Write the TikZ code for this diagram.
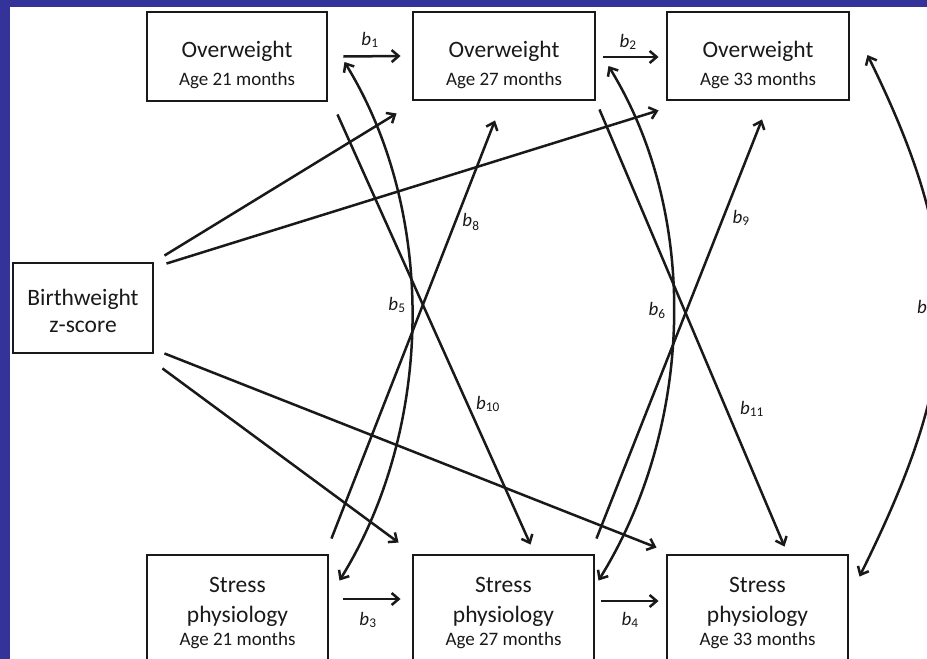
\documentclass[tikz,border=0pt]{standalone}
\usepackage{fontspec}
\setmainfont{Carlito}
\usetikzlibrary{arrows.meta,calc}
\definecolor{frameblue}{RGB}{51,51,153}
\definecolor{ink}{RGB}{25,25,25}
\newcommand{\coefb}[1]{\textit{b}\textsubscript{#1}}
\begin{document}
\begin{tikzpicture}[x=1pt,y=-1pt,
  box/.style={draw=ink, line width=2.9pt, inner sep=0pt, fill=white},
  link/.style={draw=ink, line width=2.5pt, -{Straight Barb[length=7pt,width=12pt]}},
  both/.style={draw=ink, line width=2.5pt, {Straight Barb[length=7pt,width=12pt]}-{Straight Barb[length=7pt,width=12pt]}},
  big/.style={font=\fontsize{23.5}{28}\selectfont, text=ink, inner sep=0pt, anchor=base},
  small/.style={font=\fontsize{19}{22}\selectfont, text=ink, inner sep=0pt, anchor=base},
  coef/.style={font=\fontsize{19}{22}\selectfont, text=ink, inner sep=0pt}]
\clip (0,0) rectangle (927,659);
\fill[white] (0,0) rectangle (927,659);
\fill[frameblue] (0,0) rectangle (927,7);
\fill[frameblue] (0,0) rectangle (10,659);

% boxes
\node[box, minimum width=180pt, minimum height=89pt] (o21) at (237,56.5) {};
\node[box, minimum width=182pt, minimum height=88pt] (o27) at (504,56) {};
\node[box, minimum width=182pt, minimum height=88pt] (o33) at (758,56) {};
\node[box, minimum width=140pt, minimum height=90pt] (bw) at (83,308) {};
\node[box, minimum width=181pt, minimum height=120pt] (s21) at (237.5,615) {};
\node[box, minimum width=181pt, minimum height=120pt] (s27) at (503.5,615) {};
\node[box, minimum width=181pt, minimum height=120pt] (s33) at (757.5,615) {};

% box texts
\node[big] (o21a) at (237,57) {Overweight};
\node[small] (o21b) at (237,85) {Age 21 months};
\node[big] (o27a) at (504,57) {Overweight};
\node[small] (o27b) at (504,85) {Age 27 months};
\node[big] (o33a) at (758,57) {Overweight};
\node[small] (o33b) at (758,85) {Age 33 months};
\node[big] (bwa) at (83,305) {Birthweight};
\node[big] (bwb) at (83,332) {z-score};
\node[big] (s21a) at (237.5,592) {Stress};
\node[big] (s21b) at (237.5,622) {physiology};
\node[small] (s21c) at (237.5,645) {Age 21 months};
\node[big] (s27a) at (503.5,592) {Stress};
\node[big] (s27b) at (503.5,622) {physiology};
\node[small] (s27c) at (503.5,645) {Age 27 months};
\node[big] (s33a) at (757.5,592) {Stress};
\node[big] (s33b) at (757.5,622) {physiology};
\node[small] (s33c) at (757.5,645) {Age 33 months};

% horizontal paths
\draw[link] ($(o21.east)+(15,0)$) -- ($(o27.west)+(-11,0)$);
\draw[link] ($(o27.east)+(7,1)$) -- ($(o33.west)+(-7,1)$);
\draw[link] ($(s21.east)+(14,-16)$) -- ($(s27.west)+(-11,-16)$);
\draw[link] ($(s27.east)+(6,-14)$) -- ($(s33.west)+(-7,-14)$);

% birthweight paths
\draw[link] ($(bw.north east)+(10,-6)$) -- ($(o27.south west)+(-15,12)$);
\draw[link] ($(bw.north east)+(12,2)$) -- ($(o33.south west)+(-7,9)$);
\draw[link] ($(bw.south east)+(10,-1)$) -- ($(s33.north west)+(-9,-6)$);
\draw[link] ($(bw.south east)+(8,14)$) -- ($(s27.north west)+(-13,-11)$);

% cross-lagged paths
\draw[link] ($(s21.north east)+(2,-15)$) -- ($(o27.south)+(-9,19)$);
\draw[link] ($(s27.north east)+(1,-15)$) -- ($(o33.south)+(4,18)$);
\draw[link] ($(o21.south east)+(9,12)$) -- ($(s27.north)+(27,-9)$);
\draw[link] ($(o27.south east)+(3,8)$) -- ($(s33.north)+(27,-7)$);

% covariances
\draw[both] ($(o21.east)+(16,5.5)$) .. controls (438,214) and (433,430) .. ($(s21.north east)+(10,27)$);
\draw[both] ($(o27.east)+(12,10)$) .. controls (702,218) and (692,430) .. ($(s27.north east)+(3,27)$);
\draw[both] ($(o33.east)+(17,-1)$) .. controls (970,263) and (962,370) .. ($(s33.north east)+(10,23)$);

% coefficient labels
\node[coef] (l1) at (370,40) {\coefb{1}};
\node[coef] (l2) at (628,42) {\coefb{2}};
\node[coef] (l3) at (368,620) {\coefb{3}};
\node[coef] (l4) at (630,620) {\coefb{4}};
\node[coef] (l5) at (397,305) {\coefb{5}};
\node[coef] (l6) at (657,310) {\coefb{6}};
\node[coef] (l7) at (922,307) {\textit{b}};
\node[coef] (l8) at (471,222) {\coefb{8}};
\node[coef] (l9) at (741,218) {\coefb{9}};
\node[coef] (l10) at (488,404) {\coefb{10}};
\node[coef] (l11) at (752,409) {\coefb{11}};
\end{tikzpicture}
\end{document}
